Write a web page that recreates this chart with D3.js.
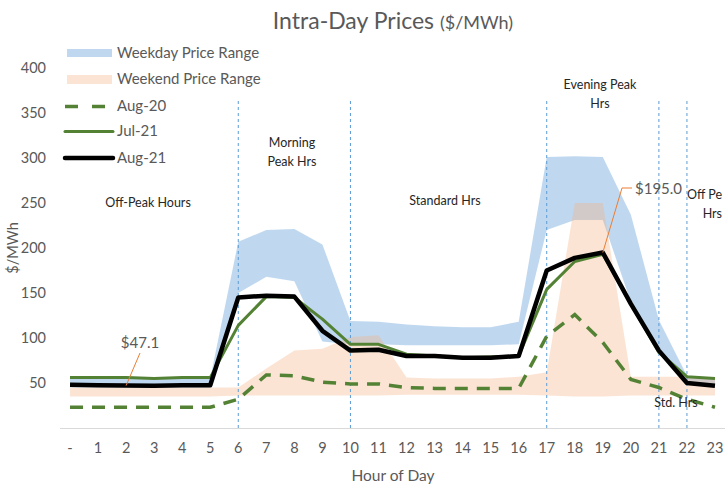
<html>
<head>
    <meta charset="UTF-8" />
    <title>Intra-Day Prices</title>
    <script src="https://d3js.org/d3.v7.min.js"></script>
    <style>
        body { margin: 0; background: white; }
        text { font-family: Lato, "Open Sans", sans-serif; }
    </style>
</head>
<body>
    <svg id="chart" width="725" height="484"></svg>
    <script>
        // hour of day categories and tick labels
        const hours = [0, 1, 2, 3, 4, 5, 6, 7, 8, 9, 10, 11, 12, 13, 14, 15, 16, 17, 18, 19, 20, 21, 22, 23];
        const yTicks = [50, 100, 150, 200, 250, 300, 350, 400];

        // series values ($/MWh)
        const aug21 = [48, 47.5, 47.1, 47, 47.5, 47.5, 145, 147, 146, 108, 86, 87, 80, 80, 78, 78, 80, 175, 189, 195, 138, 86, 50, 47];
        const jul21 = [56, 56, 56, 55, 56, 56, 114, 146, 145, 121, 93, 93, 82, 80, 78, 79, 80, 154, 185, 193, 138, 84, 57, 55];
        const aug20 = [23, 23, 23, 23, 23, 23, 32, 59, 58, 51, 49, 49, 45, 44, 44, 44, 44, 102, 126, 95, 54, 45, 32, 23];

        const weekdayLow  = [45, 45, 45, 45, 45, 45, 150, 168, 163, 96, 93, 93, 92, 92, 92, 92, 93, 220, 231, 231, 140, 85, 48, 47];
        const weekdayHigh = [55, 55, 55, 55, 55, 55, 207, 220, 221, 204, 119, 118, 115, 113, 112, 112, 118, 301, 302, 301, 237, 120, 58, 55];
        const weekendLow  = [35, 35, 35, 35, 35, 35, 36, 36, 36, 36, 36, 36, 37, 37, 37, 37, 37, 36, 35, 35, 36, 36, 36, 36];
        const weekendHigh = [45, 45, 45, 45, 45, 45, 45, 66, 86, 88, 101, 103, 56, 55, 55, 55, 57, 62, 250, 250, 57, 57, 57, 55];

        // period boundaries (dashed lines) and labels
        const boundaries = [6, 10, 17, 21, 22];

        let svg = d3.select("svg#chart");
        const width = +svg.attr("width");
        const height = +svg.attr("height");

        const xScale = d3.scaleBand().domain(hours).range([56, 729]).padding(0);
        const cx = (h) => xScale(h) + xScale.bandwidth() / 2;
        const yScale = d3.scaleLinear().domain([0, 400]).range([428, 68]);

        const grey = "#595959";
        const green = "#548235";
        const blueFill = "#9dc3e6";
        const pinkFill = "#f4b183";

        // title
        let title = svg.append("text")
            .attr("x", 393)
            .attr("y", 29)
            .attr("text-anchor", "middle")
            .attr("fill", grey);
        title.append("tspan").attr("font-size", "23px").text("Intra-Day Prices ");
        title.append("tspan").attr("font-size", "18px").text("($/MWh)");

        // x axis
        let xAxis = svg.append("g")
            .attr("transform", "translate(0,428)")
            .call(d3.axisBottom(xScale).tickSize(0).tickPadding(15)
                .tickFormat(d => d === 0 ? "-" : d));
        xAxis.select(".domain").attr("stroke", "#d9d9d9").attr("d", "M60,0.5H725");
        xAxis.selectAll("text").attr("font-size", "14.5px").attr("fill", grey)
            .attr("font-family", "Lato, sans-serif");

        // y axis
        let yAxis = svg.append("g")
            .attr("transform", "translate(48,0)")
            .call(d3.axisLeft(yScale).tickValues(yTicks).tickSize(0).tickPadding(2));
        yAxis.select(".domain").remove();
        yAxis.selectAll("text").attr("font-size", "14.5px").attr("fill", grey)
            .attr("font-family", "Lato, sans-serif");

        // axis titles
        svg.append("text")
            .attr("transform", "translate(18,248) rotate(-90)")
            .attr("text-anchor", "middle")
            .attr("font-size", "14.5px")
            .attr("fill", grey)
            .text("$/MWh");
        svg.append("text")
            .attr("x", 393)
            .attr("y", 481)
            .attr("text-anchor", "middle")
            .attr("font-size", "15.5px")
            .attr("fill", grey)
            .text("Hour of Day");

        // price range bands
        const weekdayArea = d3.area()
            .x((d, i) => cx(hours[i]))
            .y0((d, i) => yScale(weekdayLow[i]))
            .y1((d, i) => yScale(weekdayHigh[i]));
        const weekendArea = d3.area()
            .x((d, i) => cx(hours[i]))
            .y0((d, i) => yScale(weekendLow[i]))
            .y1((d, i) => yScale(weekendHigh[i]));

        svg.append("path")
            .attr("d", weekdayArea(hours))
            .attr("fill", blueFill)
            .attr("fill-opacity", 0.65);
        svg.append("path")
            .attr("d", weekendArea(hours))
            .attr("fill", pinkFill)
            .attr("fill-opacity", 0.35);

        // dashed period lines
        boundaries.forEach((h) => {
            svg.append("line")
                .attr("x1", cx(h))
                .attr("x2", cx(h))
                .attr("y1", 101)
                .attr("y2", 428)
                .attr("stroke", "#5b9bd5")
                .attr("stroke-width", 1)
                .attr("stroke-dasharray", "3,3");
        });

        // series lines
        const line = d3.line().x((d, i) => cx(hours[i])).y(d => yScale(d));

        svg.append("path")
            .attr("d", line(aug20))
            .attr("fill", "none")
            .attr("stroke", green)
            .attr("stroke-width", 3.5)
            .attr("stroke-dasharray", "13,9");
        svg.append("path")
            .attr("d", line(jul21))
            .attr("fill", "none")
            .attr("stroke", green)
            .attr("stroke-width", 3)
            .attr("stroke-linejoin", "round");
        svg.append("path")
            .attr("d", line(aug21))
            .attr("fill", "none")
            .attr("stroke", "black")
            .attr("stroke-width", 4.5)
            .attr("stroke-linejoin", "round");

        // period labels
        const periodLabels = [
            {lines: ["Off-Peak Hours"], x: 148, y: 207, anchor: "middle"},
            {lines: ["Morning", "Peak Hrs"], x: 292, y: 147, anchor: "middle"},
            {lines: ["Standard Hrs"], x: 445, y: 205, anchor: "middle"},
            {lines: ["Evening Peak", "Hrs"], x: 600, y: 89, anchor: "middle"},
            {lines: ["Std. Hrs"], x: 676, y: 407, anchor: "middle"},
            {lines: ["Off Pe", "Hrs"], x: 722, y: 199, anchor: "end"}
        ];
        periodLabels.forEach((p) => {
            p.lines.forEach((t, j) => {
                svg.append("text")
                    .attr("x", p.x)
                    .attr("y", p.y + j * 19)
                    .attr("text-anchor", p.anchor)
                    .attr("font-size", "12.5px")
                    .attr("fill", "#262626")
                    .text(t);
            });
        });

        // value call-outs
        const orange = "#ed7d31";
        let p1 = [cx(2), yScale(aug21[2])];
        svg.append("line")
            .attr("x1", p1[0]).attr("y1", p1[1])
            .attr("x2", 140).attr("y2", 353)
            .attr("stroke", orange).attr("stroke-width", 1);
        svg.append("text")
            .attr("x", 140).attr("y", 348)
            .attr("text-anchor", "middle")
            .attr("font-size", "15px").attr("fill", grey)
            .text("$" + aug21[2].toFixed(1));

        let p2 = [cx(19), yScale(aug21[19])];
        svg.append("polyline")
            .attr("points", `${p2[0]},${p2[1]} 622,188 632,188`)
            .attr("fill", "none")
            .attr("stroke", orange).attr("stroke-width", 1);
        svg.append("text")
            .attr("x", 635).attr("y", 193.5)
            .attr("font-size", "15px").attr("fill", grey)
            .text("$" + aug21[19].toFixed(1));

        // legend
        let legend = svg.append("g");
        legend.append("rect").attr("x", 67).attr("y", 49).attr("width", 45).attr("height", 8)
            .attr("fill", blueFill).attr("fill-opacity", 0.65);
        legend.append("rect").attr("x", 67).attr("y", 75).attr("width", 45).attr("height", 9)
            .attr("fill", pinkFill).attr("fill-opacity", 0.35);
        legend.append("line").attr("x1", 65).attr("x2", 106).attr("y1", 106.5).attr("y2", 106.5)
            .attr("stroke", green).attr("stroke-width", 3.5).attr("stroke-dasharray", "13,14");
        legend.append("line").attr("x1", 65).attr("x2", 113).attr("y1", 131.5).attr("y2", 131.5)
            .attr("stroke", green).attr("stroke-width", 3).attr("stroke-linecap", "round");
        legend.append("line").attr("x1", 65).attr("x2", 113).attr("y1", 158).attr("y2", 158)
            .attr("stroke", "black").attr("stroke-width", 4.5).attr("stroke-linecap", "round");

        const legendNames = ["Weekday Price Range", "Weekend Price Range", "Aug-20", "Jul-21", "Aug-21"];
        const legendY = [53, 79, 106, 131, 158];
        legendNames.forEach((n, i) => {
            legend.append("text")
                .attr("x", 117)
                .attr("y", legendY[i])
                .attr("dy", "0.35em")
                .attr("font-size", "15px")
                .attr("fill", grey)
                .text(n);
        });
    </script>
</body>
</html>
